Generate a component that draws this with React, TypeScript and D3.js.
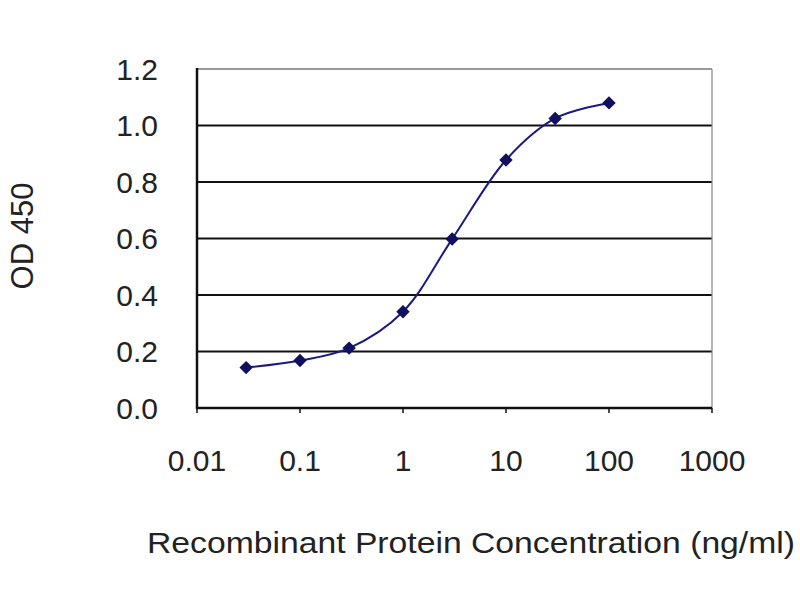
import React from "react";
import * as d3 from "d3";

const concentrations = [0.03, 0.1, 0.3, 1, 3, 10, 30, 100];
const odValues = [0.143, 0.168, 0.212, 0.341, 0.598, 0.878, 1.025, 1.08];
const xTicks = [0.01, 0.1, 1, 10, 100, 1000];
const xTickLabels = ["0.01", "0.1", "1", "10", "100", "1000"];
const yTicks = [0, 0.2, 0.4, 0.6, 0.8, 1.0, 1.2];
const yTickLabels = ["0.0", "0.2", "0.4", "0.6", "0.8", "1.0", "1.2"];

const W = 800;
const H = 600;
const left = 197;
const right = 712;
const top = 69;
const bottom = 408;

export default function App() {
  const x = d3.scaleLog().domain([0.01, 1000]).range([left, right]);
  const y = d3.scaleLinear().domain([0, 1.2]).range([bottom, top]);
  const pts: [number, number][] = concentrations.map((c, i) => [x(c), y(odValues[i])]);
  const line = d3.line().curve(d3.curveCatmullRom.alpha(0.5))(pts) || "";
  const diamond = d3.symbol().type(d3.symbolSquare).size(90)() || "";
  const font = "Arial, 'Liberation Sans', sans-serif";

  return (
    <svg
      width={W}
      height={H}
      style={{ position: "absolute", left: 0, top: 0, background: "#fff" }}
    >
      <rect x={0} y={0} width={W} height={H} fill="#fff" />
      {yTicks.slice(1, -1).map((t) => (
        <line key={t} x1={left} x2={right} y1={y(t)} y2={y(t)} stroke="#111" strokeWidth={2} />
      ))}
      <line x1={left} x2={right} y1={y(1.2)} y2={y(1.2)} stroke="#777" strokeWidth={1.5} />
      <line x1={right} x2={right} y1={top} y2={bottom} stroke="#888" strokeWidth={1.2} />
      <line x1={left} x2={left} y1={top - 1} y2={bottom + 1} stroke="#111" strokeWidth={2.5} />
      <line x1={left} x2={right} y1={bottom} y2={bottom} stroke="#111" strokeWidth={2.5} />
      {xTicks.map((t) => (
        <line key={t} x1={x(t)} x2={x(t)} y1={bottom} y2={bottom + 5} stroke="#111" strokeWidth={1.5} />
      ))}
      {yTicks.map((t, i) => (
        <text
          key={t}
          x={158}
          y={y(t)}
          dy="0.36em"
          textAnchor="end"
          fontFamily={font}
          fontSize={30}
          fill="#222"
        >
          {yTickLabels[i]}
        </text>
      ))}
      {xTicks.map((t, i) => (
        <text
          key={t}
          x={x(t)}
          y={471}
          textAnchor="middle"
          fontFamily={font}
          fontSize={30}
          fill="#222"
        >
          {xTickLabels[i]}
        </text>
      ))}
      <path d={line} fill="none" stroke="#1a1a80" strokeWidth={2} />
      {pts.map(([px, py], i) => (
        <path key={i} d={diamond} transform={`translate(${px},${py}) rotate(45)`} fill="#10105e" />
      ))}
      <text
        x={147}
        y={553}
        fontFamily={font}
        fontSize={30}
        fill="#222"
        textLength={648}
        lengthAdjust="spacingAndGlyphs"
      >
        Recombinant Protein Concentration (ng/ml)
      </text>
      <text
        transform={`translate(33,236) rotate(-90)`}
        textAnchor="middle"
        fontFamily={font}
        fontSize={31}
        fill="#222"
      >
        OD 450
      </text>
    </svg>
  );
}
